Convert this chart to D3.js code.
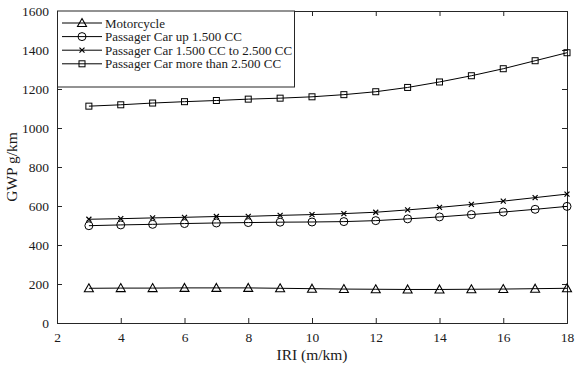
<!DOCTYPE html>
<html><head><meta charset="utf-8">
<script src="https://cdn.jsdelivr.net/npm/d3@7"></script>
<style>body{margin:0;background:#fff}svg{display:block}text{font-family:"Liberation Serif","Times New Roman",serif}</style>
</head><body>
<svg id="c" width="580" height="368"></svg>
<script>
const iri = [3,4,5,6,7,8,9,10,11,12,13,14,15,16,17,18];
const motorcycle = [178,179,179,180,180,180,178,176,174,173,172,172,173,174,176,178];
const carUp1500 = [499,503,506,510,513,515,517,518,520,525,534,544,556,569,583,598];
const car1500to2500 = [532,535,539,542,546,547,552,556,561,568,580,593,608,625,643,661];
const carOver2500 = [1112,1119,1128,1135,1141,1148,1153,1160,1171,1186,1208,1236,1268,1304,1345,1386];
const seriesNames = ["Motorcycle","Passager Car up 1.500 CC","Passager Car 1.500 CC to 2.500 CC","Passager Car more than 2.500 CC"];
const markerTypes = ["triangle","circle","cross","square"];
const xTicks = [2,4,6,8,10,12,14,16,18];
const yTicks = [0,200,400,600,800,1000,1200,1400,1600];
const xTitle = "IRI (m/km)", yTitle = "GWP g/km";

const svg = d3.select("#c");
const L=57, R=567, T=11, B=323;
const x = d3.scaleLinear().domain([2,18]).range([L,R]);
const y = d3.scaleLinear().domain([0,1600]).range([B,T]);
const ax = "#262626";
const fmt = d3.format("d");

svg.append("g").attr("transform",`translate(0,${B})`)
  .call(d3.axisBottom(x).tickValues(xTicks).tickSize(-5).tickPadding(9).tickFormat(fmt));
svg.append("g").attr("transform",`translate(${L},0)`)
  .call(d3.axisLeft(y).tickValues(yTicks).tickSize(-5).tickPadding(8).tickFormat(fmt));
svg.append("g").attr("transform",`translate(0,${T})`)
  .call(d3.axisTop(x).tickValues(xTicks).tickSize(-5).tickFormat(""));
svg.append("g").attr("transform",`translate(${R},0)`)
  .call(d3.axisRight(y).tickValues(yTicks).tickSize(-5).tickFormat(""));
svg.selectAll("g").attr("font-family",null);
svg.selectAll(".domain").attr("stroke",ax).attr("stroke-width",1);
svg.selectAll(".tick line").attr("stroke",ax);
svg.selectAll(".tick text").attr("fill","#1a1a1a").style("font-size","13.5px").style("font-family","'Liberation Serif',serif");

svg.append("text").attr("x",(L+R)/2).attr("y",360).attr("text-anchor","middle").attr("fill","#1a1a1a")
  .style("font-size","15.5px").text(xTitle);
svg.append("text").attr("transform",`translate(17,${(T+B)/2}) rotate(-90)`).attr("text-anchor","middle").attr("fill","#1a1a1a")
  .style("font-size","15.5px").text(yTitle);

function drawMarker(g, type, cx, cy){
  if(type==="triangle"){
    g.append("path").attr("d",`M${cx},${cy-4.5}L${cx+4.5},${cy+3.5}L${cx-4.5},${cy+3.5}Z`)
      .attr("fill","none").attr("stroke","#000").attr("stroke-width",1.1);
  } else if(type==="circle"){
    g.append("circle").attr("cx",cx).attr("cy",cy).attr("r",4).attr("fill","none").attr("stroke","#000").attr("stroke-width",1);
  } else if(type==="square"){
    g.append("rect").attr("x",cx-3).attr("y",cy-3).attr("width",6).attr("height",6).attr("fill","none").attr("stroke","#000").attr("stroke-width",1);
  } else {
    g.append("path").attr("d",`M${cx-2.5},${cy-2.5}L${cx+2.5},${cy+2.5}M${cx-2.5},${cy+2.5}L${cx+2.5},${cy-2.5}`)
      .attr("stroke","#000").attr("stroke-width",1.2);
  }
}

const allSeries = [motorcycle, carUp1500, car1500to2500, carOver2500];
const line = d3.line().x((d,i)=>x(iri[i])).y(d=>y(d));
allSeries.forEach((s,k)=>{
  const g = svg.append("g");
  g.append("path").datum(s).attr("d",line).attr("fill","none").attr("stroke","#000").attr("stroke-width",1);
  s.forEach((v,i)=>drawMarker(g, markerTypes[k], x(iri[i]), y(v)));
});

const lg = svg.append("g");
lg.append("rect").attr("x",L+0.5).attr("y",T).attr("width",294-L).attr("height",76)
  .attr("fill","#fff").attr("stroke",ax).attr("stroke-width",1);
seriesNames.forEach((n,k)=>{
  const yy = T + 12 + k*13.6;
  lg.append("line").attr("x1",62).attr("x2",102).attr("y1",yy).attr("y2",yy).attr("stroke","#000").attr("stroke-width",1);
  drawMarker(lg, markerTypes[k], 82, yy);
  lg.append("text").attr("x",105).attr("y",yy+4.5).attr("fill","#1a1a1a").style("font-size","13px").text(n);
});
</script>
</body></html>
